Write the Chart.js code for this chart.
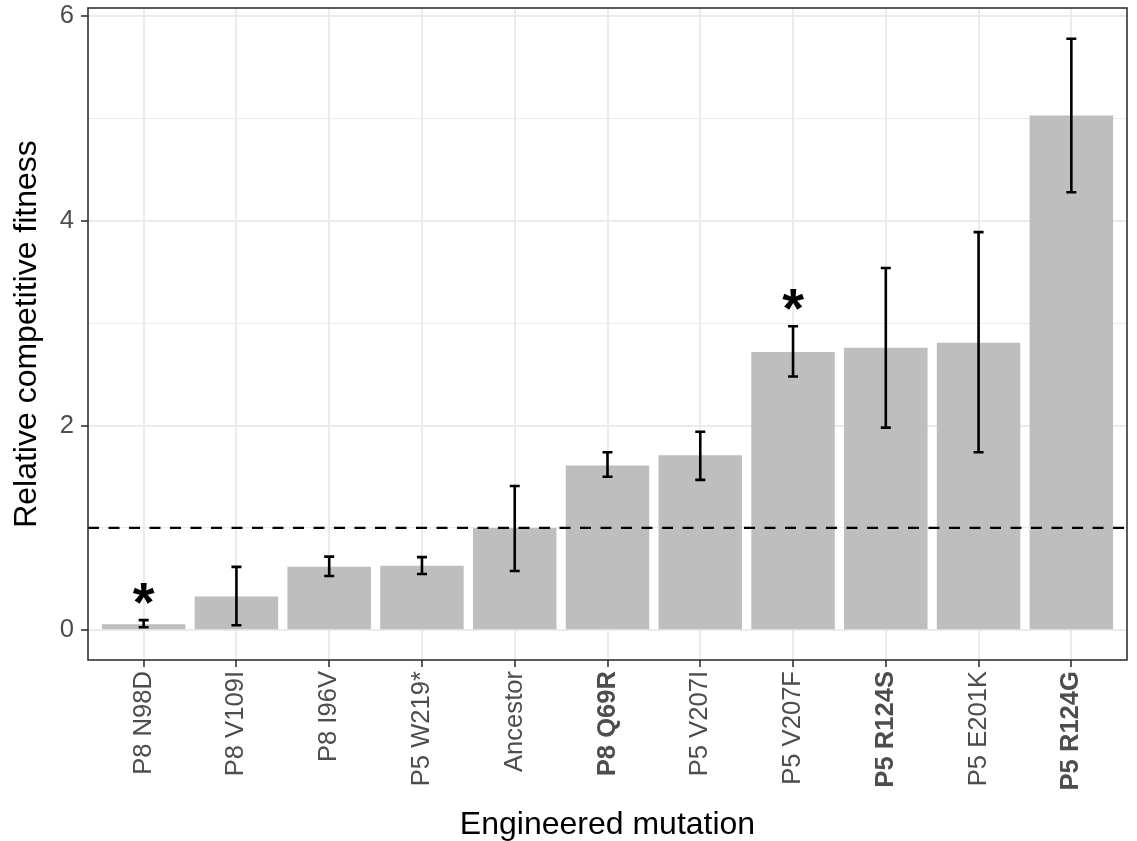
<!DOCTYPE html>
<html>
<head>
<meta charset="utf-8">
<script src="https://cdn.jsdelivr.net/npm/chart.js@4/dist/chart.umd.min.js"></script>
<style>
  html, body { margin: 0; padding: 0; background: #ffffff; }
  #wrap { width: 1137px; height: 841px; }
</style>
</head>
<body>
<div id="wrap"><canvas id="c" width="1137" height="841"></canvas></div>
<script>
const categories = ['P8 N98D', 'P8 V109I', 'P8 I96V', 'P5 W219*', 'Ancestor', 'P8 Q69R', 'P5 V207I', 'P5 V207F', 'P5 R124S', 'P5 E201K', 'P5 R124G'];
const boldLabels = [false, false, false, false, false, true, false, false, true, false, true];
const fitness = [0.06, 0.33, 0.62, 0.63, 1.00, 1.61, 1.71, 2.72, 2.76, 2.81, 5.03];
const errLow  = [0.03, 0.05, 0.53, 0.55, 0.58, 1.50, 1.47, 2.48, 1.98, 1.74, 4.28];
const errHigh = [0.10, 0.62, 0.72, 0.715, 1.41, 1.74, 1.94, 2.97, 3.54, 3.89, 5.78];
const starY   = [0.40, null, null, null, null, null, null, 3.27, null, null, null];
const yTickValues = [0, 1, 2, 3, 4, 5, 6];
const yTickLabels = ['0', '', '2', '', '4', '', '6'];
const refLineValue = 1;

const FONT = '"Liberation Sans", Arial, Helvetica, sans-serif';
const STAR_SIZE = 56;

const overlay = {
  id: 'overlay',
  afterDatasetsDraw(chart) {
    const ctx = chart.ctx, xs = chart.scales.x, ys = chart.scales.y, a = chart.chartArea;
    ctx.save();
    // error bars
    ctx.strokeStyle = '#000000';
    ctx.lineWidth = 2.6;
    ctx.lineCap = 'butt';
    categories.forEach((c, i) => {
      const px = xs.getPixelForValue(i);
      const t = ys.getPixelForValue(errHigh[i]);
      const b = ys.getPixelForValue(errLow[i]);
      ctx.beginPath();
      ctx.moveTo(px, t); ctx.lineTo(px, b);
      ctx.moveTo(px - 5, t); ctx.lineTo(px + 5, t);
      ctx.moveTo(px - 5, b); ctx.lineTo(px + 5, b);
      ctx.stroke();
    });
    // significance stars
    ctx.fillStyle = '#000000';
    ctx.font = 'bold ' + STAR_SIZE + 'px ' + FONT;
    ctx.textAlign = 'center';
    ctx.textBaseline = 'alphabetic';
    starY.forEach((v, i) => {
      if (v === null) return;
      const px = xs.getPixelForValue(i);
      const py = ys.getPixelForValue(v);
      ctx.fillText('*', px, py + 0.56 * STAR_SIZE);
    });
    // panel border
    ctx.strokeStyle = '#333333';
    ctx.lineWidth = 1.6;
    ctx.strokeRect(a.left, a.top, a.right - a.left, a.bottom - a.top);
    ctx.restore();
  }
};

new Chart(document.getElementById('c'), {
  type: 'bar',
  data: {
    datasets: [
      {
        type: 'line',
        data: [{x: -0.6, y: refLineValue}, {x: 10.6, y: refLineValue}],
        borderColor: '#000000',
        borderWidth: 2.3,
        borderDash: [11, 9.5],
        pointRadius: 0,
        fill: false,
        order: 0
      },
      {
        type: 'bar',
        data: fitness.map((v, i) => ({x: i, y: v})),
        backgroundColor: '#bebebe',
        borderWidth: 0,
        categoryPercentage: 1.0,
        barPercentage: 0.9,
        order: 1
      }
    ]
  },
  options: {
    responsive: false,
    animation: false,
    devicePixelRatio: 1,
    layout: { padding: { left: 0, top: 8, right: 10, bottom: 0 } },
    plugins: { legend: { display: false }, tooltip: { enabled: false } },
    scales: {
      x: {
        type: 'linear',
        min: -0.6,
        max: 10.6,
        offset: false,
        afterBuildTicks(scale) { scale.ticks = categories.map((c, i) => ({value: i})); },
        afterFit(scale) { scale.height = 181; scale.paddingLeft = 0; scale.paddingRight = 0; },
        border: { display: false },
        grid: {
          offset: false,
          color: '#ebebeb',
          lineWidth: 2,
          drawTicks: true,
          tickLength: 7,
          tickColor: '#333333',
          tickWidth: 1.6
        },
        ticks: {
          autoSkip: false,
          maxRotation: 90,
          minRotation: 90,
          padding: 4,
          color: '#4d4d4d',
          font: (ctx) => ({ family: FONT, size: 25.6, weight: boldLabels[ctx.index] ? 'bold' : 'normal' }),
          callback: (v, i) => categories[i]
        },
        title: {
          display: true,
          text: 'Engineered mutation',
          color: '#000000',
          font: { family: FONT, size: 32, lineHeight: 1 },
          padding: { top: 0, bottom: 0 }
        }
      },
      y: {
        type: 'linear',
        min: -0.29,
        max: 6.08,
        afterBuildTicks(scale) { scale.ticks = yTickValues.map(v => ({value: v})); },
        afterFit(scale) { scale.width = 88; scale.paddingTop = 0; scale.paddingBottom = 0; },
        border: { display: false },
        grid: {
          color: '#ebebeb',
          lineWidth: (ctx) => (yTickLabels[ctx.index] === '' ? 1 : 2),
          drawTicks: true,
          tickLength: 7,
          tickColor: (ctx) => (yTickLabels[ctx.index] === '' ? 'rgba(0,0,0,0)' : '#333333'),
          tickWidth: 1.6
        },
        ticks: {
          padding: 7,
          color: '#4d4d4d',
          font: { family: FONT, size: 25.6 },
          callback: (v, i) => yTickLabels[i]
        },
        title: {
          display: true,
          text: 'Relative competitive fitness',
          color: '#000000',
          font: { family: FONT, size: 32, lineHeight: 1 },
          padding: { top: 11, bottom: 0 }
        }
      }
    }
  },
  plugins: [overlay]
});
</script>
</body>
</html>
